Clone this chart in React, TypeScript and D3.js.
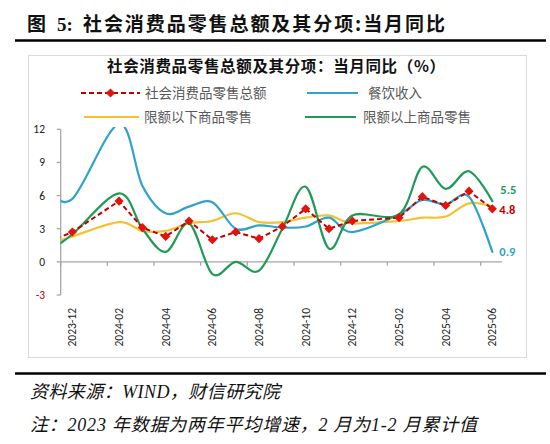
import React from "react";
import * as d3 from "d3";

const months = [
  "2023-11", "2023-12", "2024-01", "2024-02", "2024-03", "2024-04", "2024-05",
  "2024-06", "2024-07", "2024-08", "2024-09", "2024-10", "2024-11", "2024-12",
  "2025-01", "2025-02", "2025-03", "2025-04", "2025-05", "2025-06",
];
const tickLabels = [
  "2023-12", "2024-02", "2024-04", "2024-06", "2024-08",
  "2024-10", "2024-12", "2025-02", "2025-04", "2025-06",
];
const totalRetail: (number | null)[] = [1.8, 2.7, null, 5.5, 3.1, 2.3, 3.7, 2.0, 2.7, 2.1, 3.2, 4.8, 3.0, 3.7, null, 4.0, 5.9, 5.1, 6.4, 4.8];
const catering: (number | null)[] = [6.6, 5.7, null, 12.5, 6.9, 4.4, 5.0, 5.4, 3.0, 3.3, 3.1, 3.2, 4.0, 2.7, null, 4.3, 5.6, 5.2, 5.9, 0.9];
const belowQuota: (number | null)[] = [1.6, 2.3, null, 3.6, 2.8, 2.8, 3.5, 3.7, 4.4, 3.6, 3.6, 4.0, 4.2, 3.5, null, 3.7, 4.0, 4.1, 5.3, 5.0];
const aboveQuota: (number | null)[] = [1.0, 2.5, null, 6.2, 3.0, 0.9, 3.5, -1.1, 0.0, -0.8, 3.0, 6.8, 1.2, 4.2, null, 4.3, 8.6, 6.6, 8.2, 5.5];
const yTicks = [-3, 0, 3, 6, 9, 12];

const C_RED = "#c00000";
const C_DIAMOND = "#e3120b";
const C_BLUE = "#2fa3cc";
const C_YELLOW = "#f2c230";
const C_GREEN = "#219a57";
const AXIS = "#a6a6a6";

export default function App() {
  const axisX = 60.7;
  const slots = 19; // 2023-12 .. 2025-06
  const x = d3.scaleLinear().domain([0, slots]).range([axisX, 504]);
  const y = d3.scaleLinear().domain([-3, 12]).range([295, 129.3]);
  const px = (i: number) => x(i - 1 + 0.5); // months[1] = 2023-12 => slot 0

  type P = { i: number; v: number };
  const pts = (arr: (number | null)[]): P[] =>
    arr.map((v, i) => ({ i, v })).filter((d) => d.v !== null) as P[];

  const smooth = d3
    .line<P>()
    .x((d) => px(d.i))
    .y((d) => y(d.v))
    .curve(d3.curveCardinal.tension(0));
  const straight = d3
    .line<P>()
    .x((d) => px(d.i))
    .y((d) => y(d.v));

  const diamond = d3.symbol().type(d3.symbolSquare).size(42)();

  const totalPts = pts(totalRetail);
  const last = months.length - 1;
  const lastX = px(last);

  const tickBoundaries = d3.range(0, slots + 1, 2);

  const sansNum = "Calibri, Carlito, 'Liberation Sans', Arial, sans-serif";
  const cjk = "'Noto Sans CJK SC', sans-serif";

  return (
    <svg
      width={550}
      height={444}
      style={{ position: "absolute", left: 0, top: 0, background: "#fff" }}
      xmlns="http://www.w3.org/2000/svg"
    >
      <rect x={0} y={0} width={550} height={444} fill="#fff" />
      {/* Figure title */}
      <g fontFamily={cjk} fontWeight={700} fontSize={19} fill="#111">
        <text x={27} y={31}>图</text>
        <text x={57} y={31} fontFamily="'Liberation Serif', serif">5:</text>
        <text x={83} y={31} textLength={362} lengthAdjust="spacing">
          社会消费品零售总额及其分项:当月同比
        </text>
      </g>
      <line x1={15} x2={546} y1={40.5} y2={40.5} stroke="#000" strokeWidth={2.6} />

      {/* Chart box */}
      <rect x={28.5} y={55.5} width={498} height={302} fill="#fff" stroke="#d9d9d9" strokeWidth={1} />

      {/* Chart title */}
      <text x={107} y={72} textLength={338} lengthAdjust="spacing" fontFamily={cjk} fontWeight={700} fontSize={15.5} fill="#111">
        社会消费品零售总额及其分项：当月同比（%）
      </text>

      {/* Legend */}
      <g fontFamily={cjk} fontSize={13.5} fill="#595959">
        <line x1={81} x2={140} y1={93} y2={93} stroke={C_RED} strokeWidth={2} strokeDasharray="5,3" />
        <path d={diamond} transform={`translate(110.5,93) rotate(45)`} fill={C_DIAMOND} />
        <text x={145} y={98}>社会消费品零售总额</text>
        <line x1={307} x2={358} y1={93} y2={93} stroke={C_BLUE} strokeWidth={2} />
        <text x={368} y={98}>餐饮收入</text>
        <line x1={84} x2={139} y1={117} y2={117} stroke={C_YELLOW} strokeWidth={2} />
        <text x={144} y={122}>限额以下商品零售</text>
        <line x1={305} x2={356} y1={117} y2={117} stroke={C_GREEN} strokeWidth={2} />
        <text x={363} y={122}>限额以上商品零售</text>
      </g>

      <defs>
        <clipPath id="plotClip">
          <rect x={axisX} y={127} width={504 - axisX} height={173} />
        </clipPath>
      </defs>

      {/* Y axis */}
      <line x1={axisX} x2={axisX} y1={y(12)} y2={y(-3)} stroke={AXIS} strokeWidth={1.3} />
      {yTicks.map((t) => (
        <g key={t}>
          <line x1={axisX - 4} x2={axisX} y1={y(t)} y2={y(t)} stroke={AXIS} strokeWidth={1.3} />
          <text
            x={45}
            y={y(t) + 4}
            textAnchor="end"
            fontFamily={sansNum}
            fontSize={11.5}
            fill={t < 0 ? "#c00000" : "#222"}
          >
            {t}
          </text>
        </g>
      ))}

      {/* X axis at 0 */}
      <line x1={axisX} x2={x(slots) - 2} y1={y(0)} y2={y(0)} stroke={AXIS} strokeWidth={1.3} />
      {tickBoundaries.map((b) => (
        <line key={b} x1={x(b)} x2={x(b)} y1={y(0)} y2={y(0) + 4} stroke={AXIS} strokeWidth={1.3} />
      ))}
      {tickLabels.map((lab) => {
        const i = months.indexOf(lab);
        const cx = px(i);
        return (
          <text
            key={lab}
            transform={`translate(${cx + 4},308) rotate(-90)`}
            textAnchor="end"
            fontFamily={sansNum}
            fontSize={11.5}
            fill="#222"
          >
            {lab}
          </text>
        );
      })}

      {/* Series */}
      <g clipPath="url(#plotClip)" fill="none" strokeLinejoin="round" strokeLinecap="round">
        <path d={smooth(pts(belowQuota)) || ""} stroke={C_YELLOW} strokeWidth={2.2} />
        <path d={smooth(pts(catering)) || ""} stroke={C_BLUE} strokeWidth={2.2} />
        <path d={smooth(pts(aboveQuota)) || ""} stroke={C_GREEN} strokeWidth={2.2} />
        <path d={straight(totalPts) || ""} stroke={C_RED} strokeWidth={2} strokeDasharray="5,3" strokeLinecap="butt" />
        {totalPts.map((d) => (
          <path
            key={d.i}
            d={diamond}
            transform={`translate(${px(d.i)},${y(d.v)}) rotate(45)`}
            fill={C_DIAMOND}
            stroke="none"
          />
        ))}
      </g>

      {/* End labels */}
      <g fontFamily={sansNum} fontWeight={700} fontSize={12.5}>
        <text x={lastX + 8} y={y(aboveQuota[last] as number) - 7} fill={C_GREEN}>
          {(aboveQuota[last] as number).toFixed(1)}
        </text>
        <text x={lastX + 7} y={y(totalRetail[last] as number) + 5} fill={C_RED}>
          {(totalRetail[last] as number).toFixed(1)}
        </text>
        <text x={lastX + 7} y={y(catering[last] as number) + 4.5} fill={C_BLUE}>
          {(catering[last] as number).toFixed(1)}
        </text>
      </g>

      {/* Footer */}
      <line x1={15} x2={546} y1={373.5} y2={373.5} stroke="#000" strokeWidth={2.6} />
      <g fontFamily="'Liberation Serif', 'Noto Sans CJK SC', serif" fontStyle="italic" fontSize={18} fill="#111">
        <text x={30} y={398} textLength={250} lengthAdjust="spacing">资料来源：WIND，财信研究院</text>
        <text x={30} y={431} textLength={447} lengthAdjust="spacing">注：2023 年数据为两年平均增速，2 月为1-2 月累计值</text>
      </g>
    </svg>
  );
}
